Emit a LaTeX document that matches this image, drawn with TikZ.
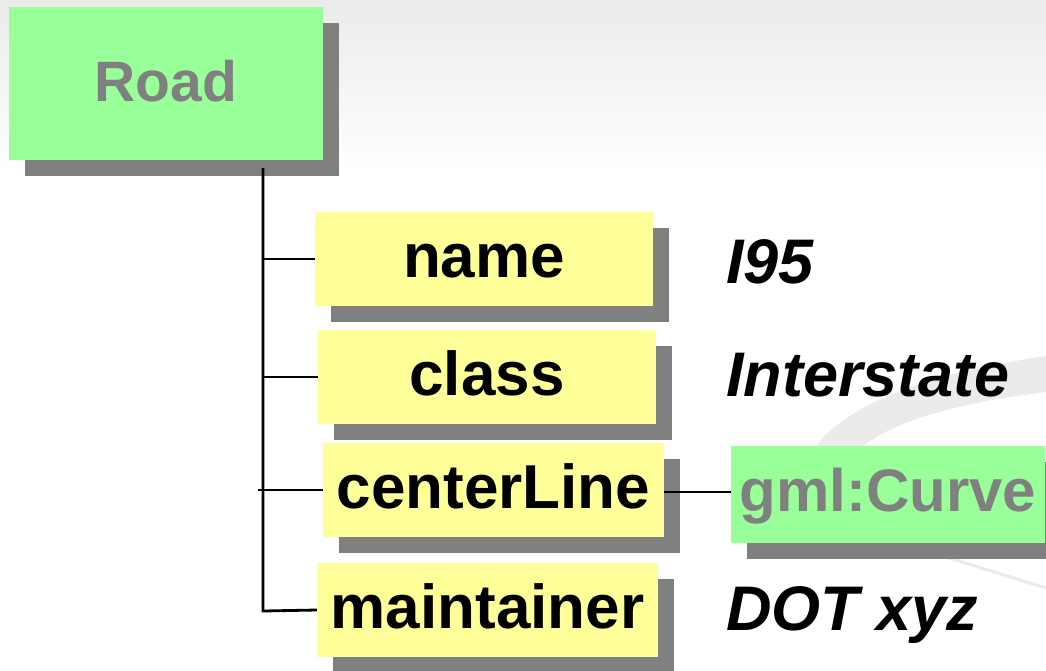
\documentclass[tikz,border=0pt]{standalone}
\usepackage{fontspec}
\setmainfont{Liberation Sans}
\usetikzlibrary{shadows}

\definecolor{roadgreen}{HTML}{99FF99}
\definecolor{attryellow}{HTML}{FFFF99}
\definecolor{shadowgray}{HTML}{808080}
\definecolor{swooshgray}{HTML}{EBEBEB}

\tikzset{
  box/.style={rectangle, inner sep=0pt, text height=44pt, text depth=8pt,
    font=\fontsize{62}{62}\selectfont\bfseries,
    general shadow={fill=shadowgray, shadow xshift=16pt, shadow yshift=-16pt}},
  feature/.style={box, fill=roadgreen, text=shadowgray},
  attr/.style={box, fill=attryellow, minimum height=94pt},
  value/.style={anchor=base west, inner sep=0pt, font=\fontsize{63}{63}\selectfont\bfseries\itshape},
  branch/.style={line width=2.8pt}
}

\begin{document}
\begin{tikzpicture}[x=1pt, y=-1pt]
\useasboundingbox (0,0) rectangle (1046,670);

\shade [top color=swooshgray, bottom color=white] (0,0) rectangle (1046,175);
\fill [swooshgray] (806,460) .. controls (840,400) and (940,372) .. (1046,356)
  -- (1046,392) .. controls (950,404) and (875,425) .. (850,460) -- cycle;
\draw [swooshgray, line width=3pt] (930,552) -- (1046,588);

\node [feature, minimum width=314pt, minimum height=153pt,
  text height=41pt, text depth=6pt,
  font=\fontsize{57}{57}\selectfont\bfseries] (road) at (166,83.5) {Road};

\node [attr, minimum width=338pt] (name) at (484,259) {name};
\node [attr, minimum width=338pt] (class) at (487,377) {class};
\node [attr, minimum width=341pt] (centerline) at (493.5,490) {centerLine};
\node [attr, minimum width=341pt] (maintainer) at (487.5,610) {maintainer};

\node [feature, minimum width=314pt, minimum height=97pt,
  text height=42pt, text depth=8pt,
  font=\fontsize{60}{60}\selectfont\bfseries] (curve) at (888,494.5) {gml:Curve};

\node [value] (i95) at (726,283) {I95};
\node [value] (interstate) at (726,396) {Interstate};
\node [value] (dot) at (726,630) {DOT xyz};

\coordinate (trunktop) at (263,168);
\coordinate (trunkbot) at (263,611);

\draw [branch] (trunktop) -- (trunkbot) -- (maintainer.west);
\draw [branch] (trunktop |- name.west) -- (name.west);
\draw [branch] (trunktop |- class.west) -- (class.west);
\draw [branch] ([xshift=-5pt]trunktop |- centerline.west) -- (centerline.west);
\draw [branch] ([yshift=-2pt]centerline.east) -- ([yshift=-2pt]centerline.east -| curve.west);

\end{tikzpicture}
\end{document}
